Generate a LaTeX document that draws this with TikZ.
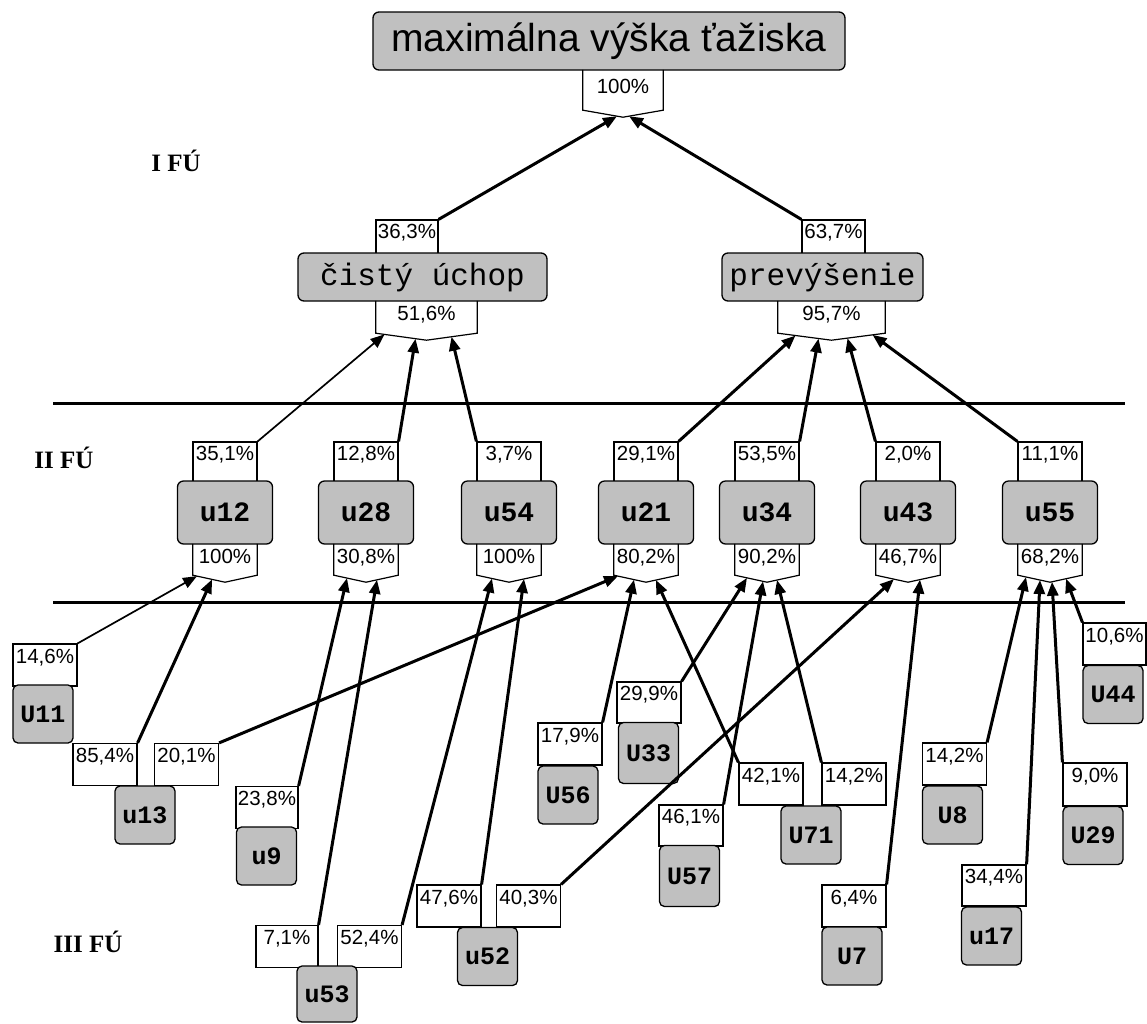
\documentclass[tikz,border=0pt]{standalone}
\usepackage{fontspec}
\setmainfont{Liberation Serif}
\newfontfamily\pctf{Liberation Sans}
\newfontfamily\monof{Liberation Mono}
\usetikzlibrary{arrows.meta,calc}
\definecolor{boxgray}{RGB}{192,192,192}
\newcommand\ptx[1]{\raisebox{2pt}[0pt][0pt]{#1}}
\newcommand\pbx[1]{\raisebox{-3.5pt}[0pt][0pt]{#1}}
\tikzset{
  gbox/.style={draw, line width=1.3pt, fill=boxgray, rounded corners=6pt, inner sep=0pt},
  gtop/.style={gbox, font=\pctf\fontsize{39}{39}\selectfont},
  gtwo/.style={gbox, font=\monof\fontsize{31}{31}\selectfont},
  gmid/.style={gbox, minimum width=95pt, minimum height=63pt, font=\monof\bfseries\fontsize{28}{28}\selectfont},
  gleaf/.style={gbox, minimum width=60pt, minimum height=58pt, rounded corners=5pt, font=\monof\bfseries\fontsize{25}{25}\selectfont},
  pct/.style={draw, line width=1.2pt, fill=white, minimum width=64pt, minimum height=41pt, inner sep=0pt, font=\pctf\fontsize{20.5}{20.5}\selectfont},
  bpct/.style={minimum width=64pt, minimum height=31pt, inner sep=0pt, font=\pctf\fontsize{20.5}{20.5}\selectfont},
  vshape/.style={line width=1.2pt},
  conn/.style={line width=3pt, -{Triangle[length=14pt,width=11pt]}},
  tconn/.style={line width=1.7pt, -{Triangle[length=14pt,width=11pt]}},
  lvl/.style={font=\bfseries\fontsize{25}{25}\selectfont, inner sep=0pt},
  hline/.style={line width=3pt}
}
\begin{document}
\begin{tikzpicture}[x=1pt,y=-1pt]
\useasboundingbox (0,0) rectangle (1147,1023);
% separators
\coordinate (h1a) at (53,403); \coordinate (h1b) at (1125,403);
\coordinate (h2a) at (53,602); \coordinate (h2b) at (1125,602);
\draw[hline] (h1a) -- (h1b);
\draw[hline] (h2a) -- (h2b);
% level labels
\node[lvl] (L1) at (176,161) {I FÚ};
\node[lvl] (L2) at (64,458) {II FÚ};
\node[lvl] (L3) at (88,942) {III FÚ};
% top
\node[bpct, minimum width=80pt, minimum height=40pt] (b100) at (623,90) {\pbx{100\%}};
\node[gtop, minimum width=472pt, minimum height=58pt] (top) at (609,41) {maximálna výška ťažiska};
% level 2
\node[pct, minimum width=62pt, minimum height=40pt] (p36) at (407,240) {\ptx{36,3\%}};
\node[pct, minimum width=63pt, minimum height=40pt] (p63) at (833.5,240) {\ptx{63,7\%}};
\node[bpct, minimum width=101pt, minimum height=32pt] (bc) at (426.5,317) {\pbx{51,6\%}};
\node[bpct, minimum width=107pt, minimum height=32pt] (bp) at (831.5,317) {\pbx{95,7\%}};
\node[gtwo, minimum width=249pt, minimum height=48pt] (cu) at (422.5,277) {čistý úchop};
\node[gtwo, minimum width=201pt, minimum height=48pt] (pr) at (822.5,277) {prevýšenie};
% level 3
\node[pct] (p12) at (225,462.5) {\ptx{35,1\%}};
\node[pct] (p28) at (366,462.5) {\ptx{12,8\%}};
\node[pct] (p54) at (509,462.5) {\ptx{3,7\%}};
\node[pct] (p21) at (646,462.5) {\ptx{29,1\%}};
\node[pct] (p34) at (767,462.5) {\ptx{53,5\%}};
\node[pct] (p43) at (908,462.5) {\ptx{2,0\%}};
\node[pct] (p55) at (1050,462.5) {\ptx{11,1\%}};
\node[bpct] (b12) at (225,559.5) {\pbx{100\%}};
\node[bpct] (b28) at (366,559.5) {\pbx{30,8\%}};
\node[bpct] (b54) at (509,559.5) {\pbx{100\%}};
\node[bpct] (b21) at (646,559.5) {\pbx{80,2\%}};
\node[bpct] (b34) at (767,559.5) {\pbx{90,2\%}};
\node[bpct] (b43) at (908,559.5) {\pbx{46,7\%}};
\node[bpct] (b55) at (1050,559.5) {\pbx{68,2\%}};
\node[gmid] (u12) at (225,512.5) {u12};
\node[gmid] (u28) at (366,512.5) {u28};
\node[gmid] (u54) at (509,512.5) {u54};
\node[gmid] (u21) at (646,512.5) {u21};
\node[gmid] (u34) at (767,512.5) {u34};
\node[gmid] (u43) at (908,512.5) {u43};
\node[gmid] (u55) at (1050,512.5) {u55};
% V-shaped bottoms
\foreach \n in {b100,bc,bp,b12,b28,b54,b21,b34,b43,b55}{
  \draw[vshape] (\n.north west) -- (\n.south west) -- ([yshift=-7pt]\n.south) -- (\n.south east) -- (\n.north east);
}
% leaves
\node[pct, minimum height=42pt] (p11) at (45,665) {\ptx{14,6\%}};
\node[gleaf] (g11) at (43,714) {U11};
\node[pct, minimum height=42pt] (p13a) at (105,764.5) {\ptx{85,4\%}};
\node[pct, minimum height=42pt] (p13b) at (186.5,764.5) {\ptx{20,1\%}};
\node[gleaf] (g13) at (145,815) {u13};
\node[pct, minimum width=62pt, minimum height=42pt] (p9) at (267,807.5) {\ptx{23,8\%}};
\node[gleaf] (g9) at (266.5,856) {u9};
\node[pct, minimum width=62pt, minimum height=42pt] (p53a) at (287,946.5) {\ptx{7,1\%}};
\node[pct, minimum height=42pt] (p53b) at (369.5,946.5) {\ptx{52,4\%}};
\node[gleaf, minimum height=56pt] (g53) at (327,994) {u53};
\node[pct, minimum height=42pt] (p52a) at (449,906) {\ptx{47,6\%}};
\node[pct, minimum height=42pt] (p52b) at (528.5,906) {\ptx{40,3\%}};
\node[gleaf] (g52) at (487.5,956.5) {u52};
\node[pct, minimum height=42pt] (p56) at (570,744) {\ptx{17,9\%}};
\node[gleaf] (g56) at (568,795) {U56};
\node[pct, minimum height=41pt] (p33) at (649,702.5) {\ptx{29,9\%}};
\node[gleaf, minimum height=61pt] (g33) at (648.5,753) {U33};
\node[pct, minimum height=41pt] (p57) at (691,825.5) {\ptx{46,1\%}};
\node[gleaf, minimum height=61pt] (g57) at (689.5,876) {U57};
\node[pct, minimum height=42pt] (p71a) at (771,784) {\ptx{42,1\%}};
\node[pct, minimum height=42pt] (p71b) at (854,784) {\ptx{14,2\%}};
\node[gleaf] (g71) at (811,835) {U71};
\node[pct, minimum height=42pt] (p7) at (854,906) {\ptx{6,4\%}};
\node[gleaf] (g7) at (852,956) {U7};
\node[pct, minimum height=42pt] (p8) at (954.5,764) {\ptx{14,2\%}};
\node[gleaf] (g8) at (952.5,815) {U8};
\node[pct, minimum height=41pt] (p17) at (994,885.5) {\ptx{34,4\%}};
\node[gleaf] (g17) at (991.5,936) {u17};
\node[pct, minimum height=43pt] (p29) at (1095,784.5) {\ptx{9,0\%}};
\node[gleaf] (g29) at (1093,835.5) {U29};
\node[pct, minimum width=63pt, minimum height=42pt] (p44) at (1114.5,644) {\ptx{10,6\%}};
\node[gleaf] (g44) at (1113,694.5) {U44};
% connectors level 1
\draw[conn] (p36.north east) -- ([xshift=-6pt,yshift=-6pt]b100.south);
\draw[conn] (p63.north west) -- ([xshift=6pt,yshift=-6pt]b100.south);
% connectors level 2
\draw[tconn] (p12.north east) -- ([xshift=-42pt,yshift=-1.2pt]bc.south);
\draw[conn] (p28.north east) -- ([xshift=-11pt,yshift=-5.5pt]bc.south);
\draw[conn] (p54.north west) -- ([xshift=25pt,yshift=-3.5pt]bc.south);
\draw[conn] (p21.north east) -- ([xshift=-36pt,yshift=-2.3pt]bp.south);
\draw[conn] (p34.north east) -- ([xshift=-13pt,yshift=-5.3pt]bp.south);
\draw[conn] (p43.north west) -- ([xshift=16pt,yshift=-4.9pt]bp.south);
\draw[conn] (p55.north west) -- ([xshift=41pt,yshift=-1.6pt]bp.south);
% connectors level 3
\draw[tconn] (p11.north east) -- ([xshift=-28pt,yshift=-0.9pt]b12.south);
\draw[conn] (p13a.north east) -- ([xshift=-13pt,yshift=-4.2pt]b12.south);
\draw[conn] (p13b.north east) -- ([xshift=-28pt,yshift=-0.9pt]b21.south);
\draw[conn] (p9.north east) -- ([xshift=-19pt,yshift=-2.8pt]b28.south);
\draw[conn] (p53a.north east) -- ([xshift=11pt,yshift=-4.6pt]b28.south);
\draw[conn] (p53b.north east) -- ([xshift=-17pt,yshift=-3.3pt]b54.south);
\draw[conn] (p52a.north east) -- ([xshift=15pt,yshift=-3.7pt]b54.south);
\draw[conn] (p52b.north east) -- ([xshift=-14pt,yshift=-3.9pt]b43.south);
\draw[conn] (p56.north east) -- ([xshift=-12pt,yshift=-4.4pt]b21.south);
\draw[conn] (p71a.north west) -- ([xshift=10pt,yshift=-4.8pt]b21.south);
\draw[conn] (p33.north east) -- ([xshift=-20pt,yshift=-2.6pt]b34.south);
\draw[conn] (p57.north east) -- ([xshift=-4pt,yshift=-6.1pt]b34.south);
\draw[conn] (p71b.north west) -- ([xshift=10pt,yshift=-4.8pt]b34.south);
\draw[conn] (p7.north east) -- ([xshift=12pt,yshift=-4.4pt]b43.south);
\draw[conn] (p8.north east) -- ([xshift=-24pt,yshift=-1.8pt]b55.south);
\draw[conn] (p17.north east) -- ([xshift=-10pt,yshift=-4.8pt]b55.south);
\draw[conn] (p29.north west) -- ([xshift=2pt,yshift=-6.6pt]b55.south);
\draw[conn] (p44.north west) -- ([xshift=16pt,yshift=-3.5pt]b55.south);
\end{tikzpicture}
\end{document}
